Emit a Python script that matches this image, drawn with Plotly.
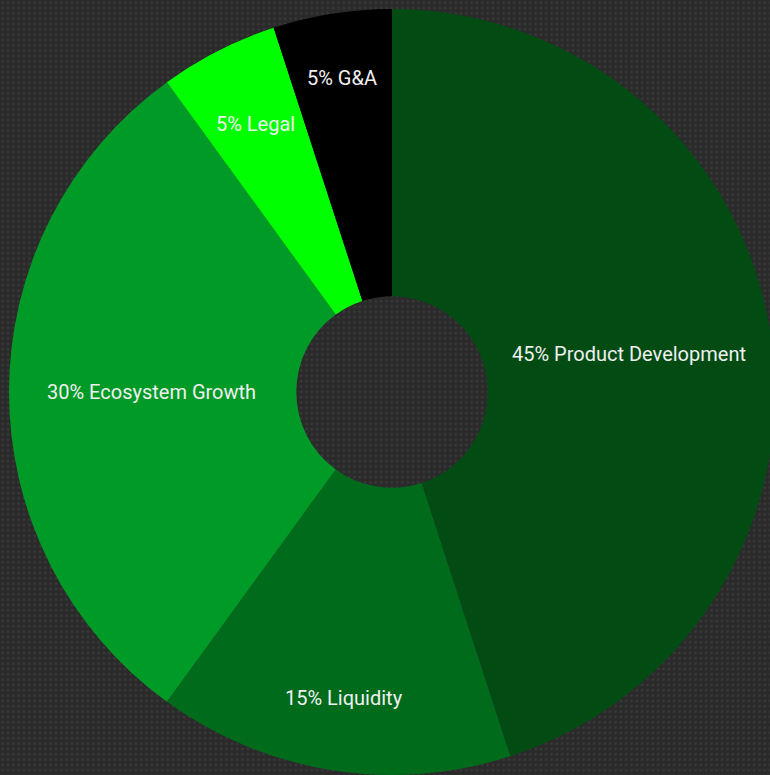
import base64
import math
import plotly.graph_objects as go

labels = ["Product Development", "Liquidity", "Ecosystem Growth", "Legal", "G&A"]
values = [45, 15, 30, 5, 5]
colors = ["#024c14", "#016b1c", "#009a27", "#00ff00", "#000000"]
# radial position of each label, as a fraction of the pie radius
label_radius = [0.627, 0.809, 0.627, 0.786, 0.830]

W, H = 784, 784
R_OFF = 9  # pie offset from figure edge
R = (W - 2 * R_OFF) / 2

svg = (
    '<svg xmlns="http://www.w3.org/2000/svg" width="784" height="784">'
    '<defs><pattern id="p" width="5.33" height="5.33" patternUnits="userSpaceOnUse">'
    '<rect width="6" height="6" fill="#2a2a2a"/>'
    '<circle cx="2.66" cy="2.66" r="1.4" fill="#393939"/></pattern></defs>'
    '<rect width="784" height="784" fill="url(#p)"/></svg>'
)
src = "data:image/svg+xml;base64," + base64.b64encode(svg.encode()).decode()

fig = go.Figure(
    go.Pie(
        labels=labels,
        values=values,
        textinfo="none",
        hole=0.25,
        sort=False,
        direction="clockwise",
        rotation=0,
        marker=dict(colors=colors, line=dict(width=0)),
        domain=dict(x=[R_OFF / W, 1 - R_OFF / W], y=[R_OFF / H, 1 - R_OFF / H]),
        showlegend=False,
    )
)

total = sum(values)
cum = 0
annotations = []
for lab, v, rf in zip(labels, values, label_radius):
    mid = (cum + v / 2) / total * 2 * math.pi
    cum += v
    r = rf * R
    annotations.append(dict(
        text=f"{v}% {lab}",
        x=0.5 + r * math.sin(mid) / W,
        y=0.5 + r * math.cos(mid) / H,
        xref="paper", yref="paper",
        xanchor="center", yanchor="middle",
        showarrow=False,
        font=dict(family="Roboto", size=20, color="#f0f0f0"),
    ))

fig.update_layout(
    width=W,
    height=H,
    margin=dict(l=0, r=0, t=0, b=0),
    paper_bgcolor="#2a2a2a",
    annotations=annotations,
    images=[dict(source=src, xref="paper", yref="paper", x=0, y=1,
                 sizex=1, sizey=1, sizing="stretch", layer="below")],
)
fig.write_html(
    "out.html",
    post_script="document.body.style.margin='0';document.body.style.overflow='hidden';document.documentElement.style.overflow='hidden';",
)
